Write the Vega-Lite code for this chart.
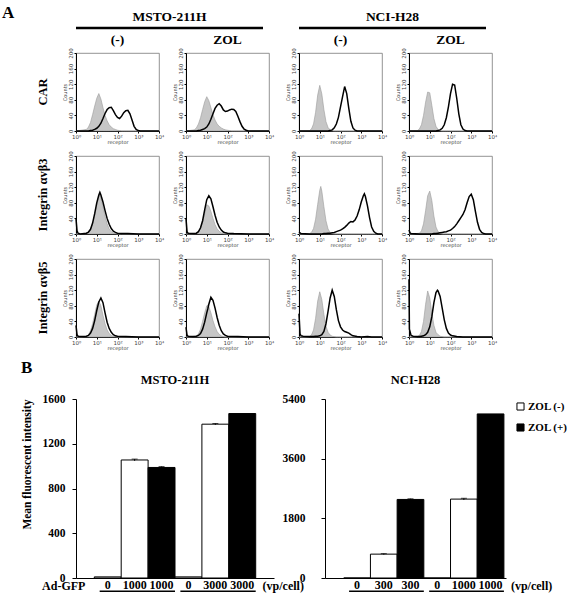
{
"$schema":"https://vega.github.io/schema/vega-lite/v6.json",
"background":"white",
"padding":{"left":2,"top":4,"right":0,"bottom":0},
"title":{"text":"A","anchor":"start","frame":"bounds","offset":-12,"fontSize":17,"font":"Liberation Serif","fontWeight":"bold","color":"black"},
"config":{"view":{"stroke":"#777","strokeWidth":0.8},"font":"Liberation Serif","axis":{"grid":false}},
"datasets":{
"panels":[
{"p":1,"cell":"MSTO-211H","zol":"(-)","rec":"CAR"},
{"p":2,"cell":"MSTO-211H","zol":"ZOL","rec":"CAR"},
{"p":3,"cell":"NCI-H28","zol":"(-)","rec":"CAR"},
{"p":4,"cell":"NCI-H28","zol":"ZOL","rec":"CAR"},
{"p":5,"cell":"MSTO-211H","zol":"(-)","rec":"Integrin αvβ3"},
{"p":6,"cell":"MSTO-211H","zol":"ZOL","rec":"Integrin αvβ3"},
{"p":7,"cell":"NCI-H28","zol":"(-)","rec":"Integrin αvβ3"},
{"p":8,"cell":"NCI-H28","zol":"ZOL","rec":"Integrin αvβ3"},
{"p":9,"cell":"MSTO-211H","zol":"(-)","rec":"Integrin αvβ5"},
{"p":10,"cell":"MSTO-211H","zol":"ZOL","rec":"Integrin αvβ5"},
{"p":11,"cell":"NCI-H28","zol":"(-)","rec":"Integrin αvβ5"},
{"p":12,"cell":"NCI-H28","zol":"ZOL","rec":"Integrin αvβ5"}
],
"hist":[
{"p":1,"x":0,"c":0,"s":0},{"p":1,"x":0.5,"c":4,"s":0},{"p":1,"x":0.6,"c":10,"s":0},{"p":1,"x":0.7,"c":22,"s":1},{"p":1,"x":0.8,"c":42,"s":2},{"p":1,"x":0.9,"c":64,"s":4},{"p":1,"x":1,"c":84,"s":7},{"p":1,"x":1.1,"c":96,"s":12},{"p":1,"x":1.2,"c":82,"s":20},{"p":1,"x":1.3,"c":60,"s":32},{"p":1,"x":1.4,"c":40,"s":45},{"p":1,"x":1.5,"c":26,"s":55},{"p":1,"x":1.6,"c":16,"s":60},{"p":1,"x":1.7,"c":10,"s":61},{"p":1,"x":1.8,"c":6,"s":52},{"p":1,"x":1.9,"c":4,"s":42},{"p":1,"x":2,"c":2,"s":35},{"p":1,"x":2.1,"c":1,"s":32},{"p":1,"x":2.2,"c":0,"s":38},{"p":1,"x":2.3,"c":0,"s":47},{"p":1,"x":2.4,"c":0,"s":52},{"p":1,"x":2.5,"c":0,"s":53},{"p":1,"x":2.6,"c":0,"s":44},{"p":1,"x":2.7,"c":0,"s":28},{"p":1,"x":2.8,"c":0,"s":12},{"p":1,"x":2.9,"c":0,"s":4},{"p":1,"x":3,"c":0,"s":1},{"p":1,"x":3.1,"c":0,"s":0},{"p":1,"x":4,"c":0,"s":0},
{"p":2,"x":0,"c":0,"s":0},{"p":2,"x":0.4,"c":3,"s":0},{"p":2,"x":0.5,"c":8,"s":0},{"p":2,"x":0.6,"c":18,"s":1},{"p":2,"x":0.7,"c":34,"s":2},{"p":2,"x":0.8,"c":55,"s":4},{"p":2,"x":0.9,"c":75,"s":6},{"p":2,"x":1,"c":88,"s":10},{"p":2,"x":1.1,"c":78,"s":18},{"p":2,"x":1.2,"c":60,"s":30},{"p":2,"x":1.3,"c":42,"s":44},{"p":2,"x":1.4,"c":28,"s":58},{"p":2,"x":1.5,"c":18,"s":66},{"p":2,"x":1.6,"c":12,"s":70},{"p":2,"x":1.7,"c":8,"s":64},{"p":2,"x":1.8,"c":5,"s":54},{"p":2,"x":1.9,"c":3,"s":50},{"p":2,"x":2,"c":2,"s":51},{"p":2,"x":2.1,"c":1,"s":54},{"p":2,"x":2.2,"c":0,"s":56},{"p":2,"x":2.3,"c":0,"s":55},{"p":2,"x":2.4,"c":0,"s":50},{"p":2,"x":2.5,"c":0,"s":38},{"p":2,"x":2.6,"c":0,"s":24},{"p":2,"x":2.7,"c":0,"s":12},{"p":2,"x":2.8,"c":0,"s":5},{"p":2,"x":2.9,"c":0,"s":2},{"p":2,"x":3,"c":0,"s":0},{"p":2,"x":4,"c":0,"s":0},
{"p":3,"x":0,"c":0,"s":0},{"p":3,"x":0.5,"c":1,"s":0},{"p":3,"x":0.6,"c":5,"s":0},{"p":3,"x":0.7,"c":18,"s":0},{"p":3,"x":0.8,"c":48,"s":0},{"p":3,"x":0.9,"c":92,"s":0},{"p":3,"x":1,"c":117,"s":0},{"p":3,"x":1.1,"c":95,"s":0},{"p":3,"x":1.2,"c":55,"s":0},{"p":3,"x":1.3,"c":24,"s":0},{"p":3,"x":1.4,"c":9,"s":0},{"p":3,"x":1.5,"c":3,"s":1},{"p":3,"x":1.6,"c":1,"s":3},{"p":3,"x":1.7,"c":0,"s":8},{"p":3,"x":1.8,"c":0,"s":18},{"p":3,"x":1.9,"c":0,"s":35},{"p":3,"x":2,"c":0,"s":62},{"p":3,"x":2.1,"c":0,"s":88},{"p":3,"x":2.2,"c":0,"s":114},{"p":3,"x":2.3,"c":0,"s":96},{"p":3,"x":2.4,"c":0,"s":58},{"p":3,"x":2.5,"c":0,"s":25},{"p":3,"x":2.6,"c":0,"s":8},{"p":3,"x":2.7,"c":0,"s":2},{"p":3,"x":2.8,"c":0,"s":0},{"p":3,"x":4,"c":0,"s":0},
{"p":4,"x":0,"c":0,"s":0},{"p":4,"x":0.4,"c":1,"s":0},{"p":4,"x":0.5,"c":5,"s":0},{"p":4,"x":0.6,"c":16,"s":0},{"p":4,"x":0.7,"c":40,"s":0},{"p":4,"x":0.8,"c":74,"s":0},{"p":4,"x":0.9,"c":100,"s":0},{"p":4,"x":1,"c":98,"s":0},{"p":4,"x":1.1,"c":66,"s":0},{"p":4,"x":1.2,"c":32,"s":0},{"p":4,"x":1.3,"c":12,"s":0},{"p":4,"x":1.4,"c":4,"s":1},{"p":4,"x":1.5,"c":1,"s":3},{"p":4,"x":1.6,"c":0,"s":7},{"p":4,"x":1.7,"c":0,"s":16},{"p":4,"x":1.8,"c":0,"s":34},{"p":4,"x":1.9,"c":0,"s":62},{"p":4,"x":2,"c":0,"s":96},{"p":4,"x":2.1,"c":0,"s":120},{"p":4,"x":2.2,"c":0,"s":118},{"p":4,"x":2.3,"c":0,"s":84},{"p":4,"x":2.4,"c":0,"s":44},{"p":4,"x":2.5,"c":0,"s":16},{"p":4,"x":2.6,"c":0,"s":5},{"p":4,"x":2.7,"c":0,"s":1},{"p":4,"x":2.8,"c":0,"s":0},{"p":4,"x":4,"c":0,"s":0},
{"p":5,"x":0,"c":0,"s":40},{"p":5,"x":0.05,"c":0,"s":8},{"p":5,"x":0.1,"c":0,"s":2},{"p":5,"x":0.2,"c":0,"s":0},{"p":5,"x":0.5,"c":2,"s":2},{"p":5,"x":0.6,"c":5,"s":5},{"p":5,"x":0.7,"c":12,"s":12},{"p":5,"x":0.8,"c":26,"s":28},{"p":5,"x":0.9,"c":48,"s":52},{"p":5,"x":1,"c":74,"s":80},{"p":5,"x":1.1,"c":96,"s":100},{"p":5,"x":1.15,"c":100,"s":107},{"p":5,"x":1.2,"c":92,"s":100},{"p":5,"x":1.3,"c":70,"s":82},{"p":5,"x":1.4,"c":46,"s":60},{"p":5,"x":1.5,"c":26,"s":40},{"p":5,"x":1.6,"c":13,"s":25},{"p":5,"x":1.7,"c":6,"s":14},{"p":5,"x":1.8,"c":3,"s":7},{"p":5,"x":1.9,"c":1,"s":4},{"p":5,"x":2,"c":0,"s":2},{"p":5,"x":2.2,"c":0,"s":1},{"p":5,"x":2.5,"c":0,"s":1},{"p":5,"x":3,"c":0,"s":0},{"p":5,"x":4,"c":0,"s":0},
{"p":6,"x":0,"c":0,"s":40},{"p":6,"x":0.05,"c":0,"s":6},{"p":6,"x":0.1,"c":0,"s":2},{"p":6,"x":0.2,"c":0,"s":1},{"p":6,"x":0.5,"c":2,"s":2},{"p":6,"x":0.6,"c":6,"s":6},{"p":6,"x":0.7,"c":14,"s":16},{"p":6,"x":0.8,"c":30,"s":34},{"p":6,"x":0.9,"c":52,"s":62},{"p":6,"x":1,"c":75,"s":88},{"p":6,"x":1.1,"c":72,"s":98},{"p":6,"x":1.2,"c":58,"s":90},{"p":6,"x":1.3,"c":40,"s":70},{"p":6,"x":1.4,"c":24,"s":48},{"p":6,"x":1.5,"c":13,"s":30},{"p":6,"x":1.6,"c":7,"s":18},{"p":6,"x":1.7,"c":3,"s":10},{"p":6,"x":1.8,"c":1,"s":5},{"p":6,"x":1.9,"c":0,"s":3},{"p":6,"x":2,"c":0,"s":2},{"p":6,"x":2.3,"c":0,"s":1},{"p":6,"x":3,"c":0,"s":0},{"p":6,"x":4,"c":0,"s":0},
{"p":7,"x":0,"c":0,"s":5},{"p":7,"x":0.1,"c":0,"s":1},{"p":7,"x":0.5,"c":1,"s":0},{"p":7,"x":0.6,"c":4,"s":0},{"p":7,"x":0.7,"c":14,"s":0},{"p":7,"x":0.8,"c":38,"s":0},{"p":7,"x":0.9,"c":76,"s":0},{"p":7,"x":1,"c":112,"s":0},{"p":7,"x":1.05,"c":122,"s":0},{"p":7,"x":1.1,"c":110,"s":0},{"p":7,"x":1.2,"c":70,"s":1},{"p":7,"x":1.3,"c":34,"s":1},{"p":7,"x":1.4,"c":13,"s":2},{"p":7,"x":1.5,"c":4,"s":2},{"p":7,"x":1.6,"c":1,"s":3},{"p":7,"x":1.7,"c":0,"s":4},{"p":7,"x":1.8,"c":0,"s":6},{"p":7,"x":1.9,"c":0,"s":8},{"p":7,"x":2,"c":0,"s":10},{"p":7,"x":2.1,"c":0,"s":13},{"p":7,"x":2.2,"c":0,"s":17},{"p":7,"x":2.3,"c":0,"s":22},{"p":7,"x":2.4,"c":0,"s":28},{"p":7,"x":2.5,"c":0,"s":32},{"p":7,"x":2.6,"c":0,"s":31},{"p":7,"x":2.7,"c":0,"s":36},{"p":7,"x":2.8,"c":0,"s":46},{"p":7,"x":2.9,"c":0,"s":62},{"p":7,"x":3,"c":0,"s":82},{"p":7,"x":3.1,"c":0,"s":98},{"p":7,"x":3.15,"c":0,"s":103},{"p":7,"x":3.2,"c":0,"s":96},{"p":7,"x":3.3,"c":0,"s":72},{"p":7,"x":3.4,"c":0,"s":42},{"p":7,"x":3.5,"c":0,"s":18},{"p":7,"x":3.6,"c":0,"s":7},{"p":7,"x":3.7,"c":0,"s":2},{"p":7,"x":3.8,"c":0,"s":0},{"p":7,"x":4,"c":0,"s":0},
{"p":8,"x":0,"c":0,"s":10},{"p":8,"x":0.05,"c":0,"s":3},{"p":8,"x":0.1,"c":0,"s":1},{"p":8,"x":0.5,"c":2,"s":0},{"p":8,"x":0.6,"c":8,"s":0},{"p":8,"x":0.7,"c":26,"s":0},{"p":8,"x":0.8,"c":60,"s":0},{"p":8,"x":0.9,"c":98,"s":0},{"p":8,"x":1,"c":110,"s":0},{"p":8,"x":1.1,"c":86,"s":0},{"p":8,"x":1.2,"c":46,"s":1},{"p":8,"x":1.3,"c":18,"s":1},{"p":8,"x":1.4,"c":6,"s":2},{"p":8,"x":1.5,"c":2,"s":3},{"p":8,"x":1.6,"c":0,"s":4},{"p":8,"x":1.7,"c":0,"s":5},{"p":8,"x":1.8,"c":0,"s":6},{"p":8,"x":1.9,"c":0,"s":8},{"p":8,"x":2,"c":0,"s":10},{"p":8,"x":2.1,"c":0,"s":14},{"p":8,"x":2.2,"c":0,"s":19},{"p":8,"x":2.3,"c":0,"s":26},{"p":8,"x":2.4,"c":0,"s":34},{"p":8,"x":2.5,"c":0,"s":42},{"p":8,"x":2.6,"c":0,"s":50},{"p":8,"x":2.7,"c":0,"s":62},{"p":8,"x":2.8,"c":0,"s":80},{"p":8,"x":2.9,"c":0,"s":96},{"p":8,"x":3,"c":0,"s":102},{"p":8,"x":3.1,"c":0,"s":88},{"p":8,"x":3.2,"c":0,"s":58},{"p":8,"x":3.3,"c":0,"s":30},{"p":8,"x":3.4,"c":0,"s":12},{"p":8,"x":3.5,"c":0,"s":4},{"p":8,"x":3.6,"c":0,"s":1},{"p":8,"x":3.7,"c":0,"s":0},{"p":8,"x":4,"c":0,"s":0},
{"p":9,"x":0,"c":0,"s":30},{"p":9,"x":0.05,"c":0,"s":6},{"p":9,"x":0.1,"c":0,"s":2},{"p":9,"x":0.2,"c":0,"s":1},{"p":9,"x":0.5,"c":2,"s":2},{"p":9,"x":0.6,"c":6,"s":4},{"p":9,"x":0.7,"c":16,"s":10},{"p":9,"x":0.8,"c":34,"s":22},{"p":9,"x":0.9,"c":58,"s":42},{"p":9,"x":1,"c":82,"s":68},{"p":9,"x":1.1,"c":92,"s":90},{"p":9,"x":1.2,"c":80,"s":100},{"p":9,"x":1.3,"c":56,"s":88},{"p":9,"x":1.4,"c":34,"s":62},{"p":9,"x":1.5,"c":18,"s":38},{"p":9,"x":1.6,"c":9,"s":22},{"p":9,"x":1.7,"c":4,"s":12},{"p":9,"x":1.8,"c":2,"s":6},{"p":9,"x":1.9,"c":1,"s":3},{"p":9,"x":2,"c":0,"s":2},{"p":9,"x":2.4,"c":0,"s":1},{"p":9,"x":3,"c":0,"s":0},{"p":9,"x":4,"c":0,"s":0},
{"p":10,"x":0,"c":0,"s":25},{"p":10,"x":0.05,"c":0,"s":5},{"p":10,"x":0.1,"c":0,"s":2},{"p":10,"x":0.2,"c":0,"s":1},{"p":10,"x":0.5,"c":3,"s":2},{"p":10,"x":0.6,"c":8,"s":4},{"p":10,"x":0.7,"c":20,"s":9},{"p":10,"x":0.8,"c":40,"s":20},{"p":10,"x":0.9,"c":62,"s":38},{"p":10,"x":1,"c":80,"s":62},{"p":10,"x":1.05,"c":82,"s":72},{"p":10,"x":1.1,"c":78,"s":84},{"p":10,"x":1.2,"c":62,"s":102},{"p":10,"x":1.3,"c":42,"s":94},{"p":10,"x":1.4,"c":26,"s":74},{"p":10,"x":1.5,"c":14,"s":50},{"p":10,"x":1.6,"c":7,"s":30},{"p":10,"x":1.7,"c":3,"s":16},{"p":10,"x":1.8,"c":1,"s":8},{"p":10,"x":1.9,"c":0,"s":4},{"p":10,"x":2,"c":0,"s":2},{"p":10,"x":2.5,"c":0,"s":1},{"p":10,"x":3,"c":0,"s":0},{"p":10,"x":4,"c":0,"s":0},
{"p":11,"x":0,"c":0,"s":60},{"p":11,"x":0.05,"c":0,"s":8},{"p":11,"x":0.1,"c":0,"s":3},{"p":11,"x":0.2,"c":0,"s":2},{"p":11,"x":0.5,"c":1,"s":1},{"p":11,"x":0.6,"c":5,"s":1},{"p":11,"x":0.7,"c":18,"s":1},{"p":11,"x":0.8,"c":48,"s":2},{"p":11,"x":0.9,"c":92,"s":2},{"p":11,"x":1,"c":116,"s":3},{"p":11,"x":1.1,"c":96,"s":6},{"p":11,"x":1.2,"c":58,"s":14},{"p":11,"x":1.3,"c":28,"s":34},{"p":11,"x":1.4,"c":12,"s":66},{"p":11,"x":1.5,"c":5,"s":100},{"p":11,"x":1.6,"c":2,"s":120},{"p":11,"x":1.7,"c":1,"s":104},{"p":11,"x":1.8,"c":0,"s":70},{"p":11,"x":1.9,"c":0,"s":42},{"p":11,"x":2,"c":0,"s":26},{"p":11,"x":2.1,"c":0,"s":18},{"p":11,"x":2.2,"c":0,"s":14},{"p":11,"x":2.3,"c":0,"s":12},{"p":11,"x":2.4,"c":0,"s":10},{"p":11,"x":2.5,"c":0,"s":6},{"p":11,"x":2.6,"c":0,"s":3},{"p":11,"x":2.8,"c":0,"s":1},{"p":11,"x":3,"c":0,"s":0},{"p":11,"x":3.3,"c":0,"s":1},{"p":11,"x":3.5,"c":0,"s":0},{"p":11,"x":4,"c":0,"s":0},
{"p":12,"x":0,"c":0,"s":148},{"p":12,"x":0.02,"c":0,"s":20},{"p":12,"x":0.1,"c":0,"s":4},{"p":12,"x":0.2,"c":0,"s":2},{"p":12,"x":0.4,"c":1,"s":1},{"p":12,"x":0.5,"c":4,"s":1},{"p":12,"x":0.6,"c":14,"s":2},{"p":12,"x":0.7,"c":40,"s":3},{"p":12,"x":0.8,"c":84,"s":6},{"p":12,"x":0.9,"c":118,"s":12},{"p":12,"x":1,"c":100,"s":26},{"p":12,"x":1.1,"c":62,"s":52},{"p":12,"x":1.2,"c":30,"s":88},{"p":12,"x":1.3,"c":12,"s":114},{"p":12,"x":1.37,"c":8,"s":120},{"p":12,"x":1.4,"c":6,"s":118},{"p":12,"x":1.5,"c":2,"s":104},{"p":12,"x":1.6,"c":1,"s":74},{"p":12,"x":1.7,"c":0,"s":44},{"p":12,"x":1.8,"c":0,"s":22},{"p":12,"x":1.9,"c":0,"s":10},{"p":12,"x":2,"c":0,"s":5},{"p":12,"x":2.1,"c":0,"s":3},{"p":12,"x":2.3,"c":0,"s":1},{"p":12,"x":2.6,"c":0,"s":0},{"p":12,"x":4,"c":0,"s":0}
],
"bars":[
{"cell":"MSTO-211H","cat":"0a","zol":"ZOL (-)","v":10,"lo":10,"hi":10},
{"cell":"MSTO-211H","cat":"1000a","zol":"ZOL (-)","v":1055,"lo":1047,"hi":1063},
{"cell":"MSTO-211H","cat":"1000b","zol":"ZOL (+)","v":988,"lo":980,"hi":996},
{"cell":"MSTO-211H","cat":"0b","zol":"ZOL (-)","v":10,"lo":10,"hi":10},
{"cell":"MSTO-211H","cat":"3000a","zol":"ZOL (-)","v":1375,"lo":1369,"hi":1381},
{"cell":"MSTO-211H","cat":"3000b","zol":"ZOL (+)","v":1470,"lo":1470,"hi":1470},
{"cell":"NCI-H28","cat":"0a","zol":"ZOL (-)","v":0,"lo":0,"hi":0},
{"cell":"NCI-H28","cat":"300a","zol":"ZOL (-)","v":720,"lo":705,"hi":735},
{"cell":"NCI-H28","cat":"300b","zol":"ZOL (+)","v":2370,"lo":2350,"hi":2390},
{"cell":"NCI-H28","cat":"0b","zol":"ZOL (+)","v":0,"lo":0,"hi":0},
{"cell":"NCI-H28","cat":"1000a","zol":"ZOL (-)","v":2380,"lo":2355,"hi":2405},
{"cell":"NCI-H28","cat":"1000b","zol":"ZOL (+)","v":4950,"lo":4950,"hi":4950}
],
"groups":[
{"cell":"MSTO-211H","from":"0a","to":"1000b","y":-118},
{"cell":"MSTO-211H","from":"0b","to":"3000b","y":-118},
{"cell":"NCI-H28","from":"0a","to":"300b","y":-400},
{"cell":"NCI-H28","from":"0b","to":"1000b","y":-400}
],
"notes":[
{"cell":"MSTO-211H","cat":"3000b","text":"(vp/cell)"},
{"cell":"NCI-H28","cat":"1000b","text":"(vp/cell)"}
],
"leads":[
{"cell":"MSTO-211H","cat":"0a","text":"Ad-GFP"}
]
},
"vconcat":[
{
"spacing":8,
"hconcat":[
{"spacing":2,"vconcat":[
 {"title":{"text":"MSTO-211H","fontSize":13.5,"font":"Liberation Serif","fontWeight":"bold","offset":3},
  "width":187,"height":2,"view":{"stroke":null},
  "data":{"values":[{"a":0,"b":1}]},
  "mark":{"type":"rule","strokeWidth":2.5,"color":"black"},
  "encoding":{
   "x":{"field":"a","type":"quantitative","scale":{"domain":[0,1]},"axis":null},
   "x2":{"field":"b"},
   "y":{"datum":0.5,"type":"quantitative","scale":{"domain":[0,1]},"axis":{"labels":false,"ticks":false,"domain":false,"title":null,"minExtent":74,"maxExtent":74}}
  }},
 {"data":{"name":"hist"},
  "transform":[{"lookup":"p","from":{"data":{"name":"panels"},"key":"p","fields":["cell","zol","rec"]}},{"filter":"datum.cell === 'MSTO-211H'"},{"fold":["c","s"],"as":["curve","n"]}],
  "facet":{
   "row":{"field":"rec","type":"nominal","sort":["CAR","Integrin αvβ3","Integrin αvβ5"],"header":{"title":null,"labelFont":"Liberation Serif","labelFontWeight":"bold","labelFontSize":12.5,"labelAngle":-90,"labelPadding":6,"labelLimit":0,"labelColor":"black"}},
   "column":{"field":"zol","type":"nominal","sort":["(-)","ZOL"],"header":{"title":null,"labelFont":"Liberation Serif","labelFontWeight":"bold","labelFontSize":13.5,"labelPadding":1,"labelColor":"black"}}
  },
  "spacing":{"row":5,"column":6},
  "resolve":{"axis":{"x":"independent","y":"independent"}},
  "spec":{"width":83,"height":78,
   "encoding":{
    "x":{"field":"x","type":"quantitative","title":"receptor","scale":{"domain":[0,4],"nice":false},"axis":{"values":[0,1,2,3,4],"labelExpr":"'10' + ['⁰','¹','²','³','⁴'][datum.value]","labelFont":"DejaVu Sans","labelFontSize":5.5,"labelColor":"#444","labelPadding":1,"labelFlush":false,"labelOverlap":false,"tickSize":2,"tickColor":"#000","domainColor":"#000","titleFont":"DejaVu Sans","titleFontSize":5,"titleFontWeight":"normal","titleColor":"#444","titlePadding":0}},
    "y":{"field":"n","type":"quantitative","title":"Counts","scale":{"domain":[0,200],"nice":false},"axis":{"values":[0,40,80,120,160,200],"format":"d","labelAngle":-90,"labelAlign":"center","labelBaseline":"bottom","labelFont":"DejaVu Sans","labelFontSize":5.5,"labelColor":"#444","labelPadding":1,"labelFlush":false,"labelOverlap":false,"labelBound":false,"tickSize":2,"tickColor":"#000","domainColor":"#000","titleFont":"DejaVu Sans","titleFontSize":5,"titleFontWeight":"normal","titleColor":"#444","titlePadding":1}}
   },
   "layer":[
    {"transform":[{"filter":"datum.curve === 'c'"}],"mark":{"type":"area","fill":"#c6c6c6","stroke":"#9a9a9a","strokeWidth":0.6}},
    {"transform":[{"filter":"datum.curve === 's'"}],"mark":{"type":"line","color":"black","strokeWidth":1.5}}
   ]}
 }
]},
{"spacing":2,"vconcat":[
 {"title":{"text":"NCI-H28","fontSize":13.5,"font":"Liberation Serif","fontWeight":"bold","offset":3},
  "width":187,"height":2,"view":{"stroke":null},
  "data":{"values":[{"a":0,"b":1}]},
  "mark":{"type":"rule","strokeWidth":2.5,"color":"black"},
  "encoding":{
   "x":{"field":"a","type":"quantitative","scale":{"domain":[0,1]},"axis":null},
   "x2":{"field":"b"},
   "y":{"datum":0.5,"type":"quantitative","scale":{"domain":[0,1]},"axis":{"labels":false,"ticks":false,"domain":false,"title":null,"minExtent":16,"maxExtent":16}}
  }},
 {"data":{"name":"hist"},
  "transform":[{"lookup":"p","from":{"data":{"name":"panels"},"key":"p","fields":["cell","zol","rec"]}},{"filter":"datum.cell === 'NCI-H28'"},{"fold":["c","s"],"as":["curve","n"]}],
  "facet":{
   "row":{"field":"rec","type":"nominal","sort":["CAR","Integrin αvβ3","Integrin αvβ5"],"header":{"title":null,"labels":false}},
   "column":{"field":"zol","type":"nominal","sort":["(-)","ZOL"],"header":{"title":null,"labelFont":"Liberation Serif","labelFontWeight":"bold","labelFontSize":13.5,"labelPadding":1,"labelColor":"black"}}
  },
  "spacing":{"row":5,"column":6},
  "resolve":{"axis":{"x":"independent","y":"independent"}},
  "spec":{"width":83,"height":78,
   "encoding":{
    "x":{"field":"x","type":"quantitative","title":"receptor","scale":{"domain":[0,4],"nice":false},"axis":{"values":[0,1,2,3,4],"labelExpr":"'10' + ['⁰','¹','²','³','⁴'][datum.value]","labelFont":"DejaVu Sans","labelFontSize":5.5,"labelColor":"#444","labelPadding":1,"labelFlush":false,"labelOverlap":false,"tickSize":2,"tickColor":"#000","domainColor":"#000","titleFont":"DejaVu Sans","titleFontSize":5,"titleFontWeight":"normal","titleColor":"#444","titlePadding":0}},
    "y":{"field":"n","type":"quantitative","title":"Counts","scale":{"domain":[0,200],"nice":false},"axis":{"values":[0,40,80,120,160,200],"format":"d","labelAngle":-90,"labelAlign":"center","labelBaseline":"bottom","labelFont":"DejaVu Sans","labelFontSize":5.5,"labelColor":"#444","labelPadding":1,"labelFlush":false,"labelOverlap":false,"labelBound":false,"tickSize":2,"tickColor":"#000","domainColor":"#000","titleFont":"DejaVu Sans","titleFontSize":5,"titleFontWeight":"normal","titleColor":"#444","titlePadding":1}}
   },
   "layer":[
    {"transform":[{"filter":"datum.curve === 'c'"}],"mark":{"type":"area","fill":"#c6c6c6","stroke":"#9a9a9a","strokeWidth":0.6}},
    {"transform":[{"filter":"datum.curve === 's'"}],"mark":{"type":"line","color":"black","strokeWidth":1.5}}
   ]}
 }
]}
]
},
{
"title":{"text":"B","anchor":"start","fontSize":17,"font":"Liberation Serif","fontWeight":"bold","offset":-3},
"spacing":-22,
"resolve":{"scale":{"fill":"independent"},"legend":{"fill":"independent"}},
"hconcat":[
{"width":198,"height":179,"view":{"stroke":null},
 "title":{"text":"MSTO-211H","fontSize":12.5,"font":"Liberation Serif","fontWeight":"bold","offset":7},
 "layer":[
  {"data":{"name":"bars"},"transform":[{"filter":"datum.cell === 'MSTO-211H'"}],
   "mark":{"type":"bar","stroke":"black","strokeWidth":1},
   "encoding":{
    "x":{"field":"cat","type":"nominal","title":null,"scale":{"domain":["0a","1000a","1000b","0b","3000a","3000b"],"paddingInner":0,"paddingOuter":0.68},
      "axis":{"labelExpr":"slice(datum.value, 0, length(datum.value) - 1)","labelAngle":0,"labelFont":"Liberation Serif","labelFontWeight":"bold","labelFontSize":12,"labelColor":"black","labelPadding":1,"labelBaseline":"top","ticks":false,"domainColor":"black"}},
    "y":{"field":"v","type":"quantitative","title":"Mean fluorescent intensity","scale":{"domain":[0,1600],"nice":false},
      "axis":{"values":[0,400,800,1200,1600],"format":"d","labelFont":"Liberation Serif","labelFontWeight":"bold","labelFontSize":11.5,"labelColor":"black","labelPadding":7,"tickSize":4,"tickColor":"black","domainColor":"black","titleFont":"Liberation Serif","titleFontWeight":"bold","titleFontSize":11.5,"titleColor":"black","titlePadding":10,"titleAnchor":"end"}},
    "fill":{"field":"zol","type":"nominal","scale":{"domain":["ZOL (-)","ZOL (+)"],"range":["white","black"]},"legend":null}
   }},
  {"data":{"name":"bars"},"transform":[{"filter":"datum.cell === 'MSTO-211H' && datum.hi > datum.v"}],
   "mark":{"type":"rule","color":"black","strokeWidth":1},
   "encoding":{"x":{"field":"cat","type":"nominal","title":null},"y":{"field":"lo","type":"quantitative","title":"Mean fluorescent intensity"},"y2":{"field":"hi"}}},
  {"data":{"name":"bars"},"transform":[{"filter":"datum.cell === 'MSTO-211H' && datum.hi > datum.v"}],
   "mark":{"type":"tick","color":"black","thickness":1,"size":6},
   "encoding":{"x":{"field":"cat","type":"nominal","title":null},"y":{"field":"hi","type":"quantitative","title":"Mean fluorescent intensity"}}},
  {"data":{"name":"groups"},"transform":[{"filter":"datum.cell === 'MSTO-211H'"}],
   "mark":{"type":"rule","color":"black","strokeWidth":1.5,"clip":false},
   "encoding":{"x":{"field":"from","type":"nominal","title":null,"bandPosition":0.2},"x2":{"field":"to","bandPosition":1},"y":{"field":"y","type":"quantitative","title":"Mean fluorescent intensity"}}},
  {"data":{"name":"notes"},"transform":[{"filter":"datum.cell === 'MSTO-211H'"}],
   "mark":{"type":"text","dx":41,"dy":8,"baseline":"middle","font":"Liberation Serif","fontWeight":"bold","fontSize":12,"color":"black"},
   "encoding":{"x":{"field":"cat","type":"nominal","title":null},"y":{"datum":0,"type":"quantitative"},"text":{"field":"text"}}},
  {"data":{"name":"leads"},
   "mark":{"type":"text","dx":-44,"dy":8,"baseline":"middle","font":"Liberation Serif","fontWeight":"bold","fontSize":12,"color":"black"},
   "encoding":{"x":{"field":"cat","type":"nominal","title":null},"y":{"datum":0,"type":"quantitative"},"text":{"field":"text"}}}
 ]},
{"width":181,"height":179,"view":{"stroke":null},
 "title":{"text":"NCI-H28","fontSize":12.5,"font":"Liberation Serif","fontWeight":"bold","offset":7},
 "layer":[
  {"data":{"name":"bars"},"transform":[{"filter":"datum.cell === 'NCI-H28'"}],
   "mark":{"type":"bar","stroke":"black","strokeWidth":1},
   "encoding":{
    "x":{"field":"cat","type":"nominal","title":null,"scale":{"domain":["0a","300a","300b","0b","1000a","1000b"],"paddingInner":0,"paddingOuter":0.39,"align":0.9},
      "axis":{"labelExpr":"slice(datum.value, 0, length(datum.value) - 1)","labelAngle":0,"labelFont":"Liberation Serif","labelFontWeight":"bold","labelFontSize":12,"labelColor":"black","labelPadding":1,"labelBaseline":"top","ticks":false,"domainColor":"black"}},
    "y":{"field":"v","type":"quantitative","title":null,"scale":{"domain":[0,5400],"nice":false},
      "axis":{"values":[0,900,1800,2700,3600,4500,5400],"format":"d","labelFont":"Liberation Serif","labelFontWeight":"bold","labelFontSize":11.5,"labelColor":"black","labelPadding":16,"tickSize":4,"tickColor":"black","domainColor":"black"}},
    "fill":{"field":"zol","type":"nominal","scale":{"domain":["ZOL (-)","ZOL (+)"],"range":["white","black"]},
      "legend":{"title":null,"orient":"none","legendX":190,"legendY":2,"symbolType":"square","symbolSize":50,"symbolStrokeColor":"black","symbolStrokeWidth":1,"labelFont":"Liberation Serif","labelFontWeight":"bold","labelFontSize":11,"labelColor":"black","rowPadding":8,"labelOffset":2,"padding":0}}
   }},
  {"data":{"name":"bars"},"transform":[{"filter":"datum.cell === 'NCI-H28' && datum.hi > datum.v"}],
   "mark":{"type":"rule","color":"black","strokeWidth":1},
   "encoding":{"x":{"field":"cat","type":"nominal","title":null},"y":{"field":"lo","type":"quantitative","title":null},"y2":{"field":"hi"}}},
  {"data":{"name":"bars"},"transform":[{"filter":"datum.cell === 'NCI-H28' && datum.hi > datum.v"}],
   "mark":{"type":"tick","color":"black","thickness":1,"size":6},
   "encoding":{"x":{"field":"cat","type":"nominal","title":null},"y":{"field":"hi","type":"quantitative","title":null}}},
  {"data":{"name":"groups"},"transform":[{"filter":"datum.cell === 'NCI-H28'"}],
   "mark":{"type":"rule","color":"black","strokeWidth":1.5,"clip":false},
   "encoding":{"x":{"field":"from","type":"nominal","title":null,"bandPosition":0.2},"x2":{"field":"to","bandPosition":1},"y":{"field":"y","type":"quantitative","title":null}}},
  {"data":{"name":"notes"},"transform":[{"filter":"datum.cell === 'NCI-H28'"}],
   "mark":{"type":"text","dx":41,"dy":8,"baseline":"middle","font":"Liberation Serif","fontWeight":"bold","fontSize":12,"color":"black"},
   "encoding":{"x":{"field":"cat","type":"nominal","title":null},"y":{"datum":0,"type":"quantitative"},"text":{"field":"text"}}}
 ]}
]
}
],
"spacing":7
}
